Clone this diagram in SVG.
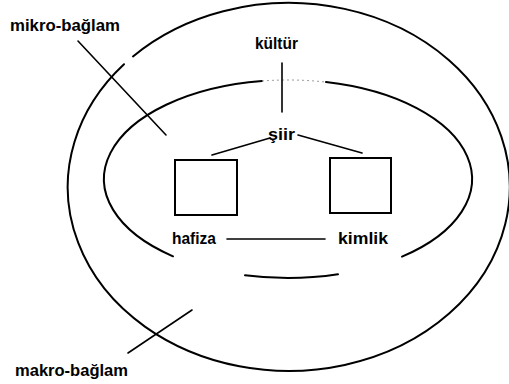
<svg xmlns="http://www.w3.org/2000/svg" width="509" height="384" viewBox="0 0 509 384">
<style>
.bg{fill:#ffffff}
.ring{fill:none;stroke:#000;stroke-width:2;stroke-linecap:round}
.faint{fill:none;stroke:#9a9a9a;stroke-width:1;stroke-dasharray:2 3}
.box{fill:#fff;stroke:#000;stroke-width:2}
.ln{stroke:#000;stroke-width:1.6;stroke-linecap:round;fill:none}
.lbl{font-family:"Liberation Sans",Arial,sans-serif;font-weight:bold;font-size:17px;fill:#000}
</style>
<rect class="bg" x="0" y="0" width="509" height="384"/>
<g id="makro-baglam-ring">
<path class="ring" d="M133,56.4 A221,184 0 1,1 124,64.3"/>
</g>
<g id="mikro-baglam-ring">
<path class="ring" d="M326,82.1 A184,99 0 0,1 402,256.7"/>
<path class="ring" d="M338,274.3 A184,99 0 0,1 245,275.3"/>
<path class="ring" d="M173,256.3 A184,99 0 0,1 262,81"/>
<path class="faint" d="M262,81 A184,99 0 0,1 326,82.1"/>
</g>
<g id="mikro-baglam">
<text class="lbl" x="10" y="31" textLength="110" lengthAdjust="spacingAndGlyphs">mikro-bağlam</text>
</g>
<g id="makro-baglam">
<text class="lbl" x="15" y="376" textLength="113" lengthAdjust="spacingAndGlyphs">makro-bağlam</text>
</g>
<g id="kultur">
<text class="lbl" x="255" y="49" textLength="43" lengthAdjust="spacingAndGlyphs">kültür</text>
</g>
<g id="siir">
<text class="lbl" x="268" y="140" textLength="27" lengthAdjust="spacingAndGlyphs">şiir</text>
</g>
<g id="box-left">
<rect class="box" x="175" y="160" width="62" height="55"/>
</g>
<g id="box-right">
<rect class="box" x="330" y="158" width="61" height="55"/>
</g>
<g id="hafiza">
<text class="lbl" x="172" y="244" textLength="44" lengthAdjust="spacingAndGlyphs">hafiza</text>
</g>
<g id="kimlik">
<text class="lbl" x="338" y="244" textLength="50" lengthAdjust="spacingAndGlyphs">kimlik</text>
</g>
<g id="connectors">
<line class="ln" x1="78" y1="41" x2="166" y2="135"/>
<line class="ln" x1="128" y1="353" x2="192" y2="310"/>
<line class="ln" x1="282" y1="63" x2="282" y2="112"/>
<line class="ln" x1="212" y1="155" x2="270" y2="138"/>
<line class="ln" x1="298" y1="135" x2="362" y2="153"/>
<line class="ln" x1="227" y1="239" x2="325" y2="239"/>
</g>
</svg>
